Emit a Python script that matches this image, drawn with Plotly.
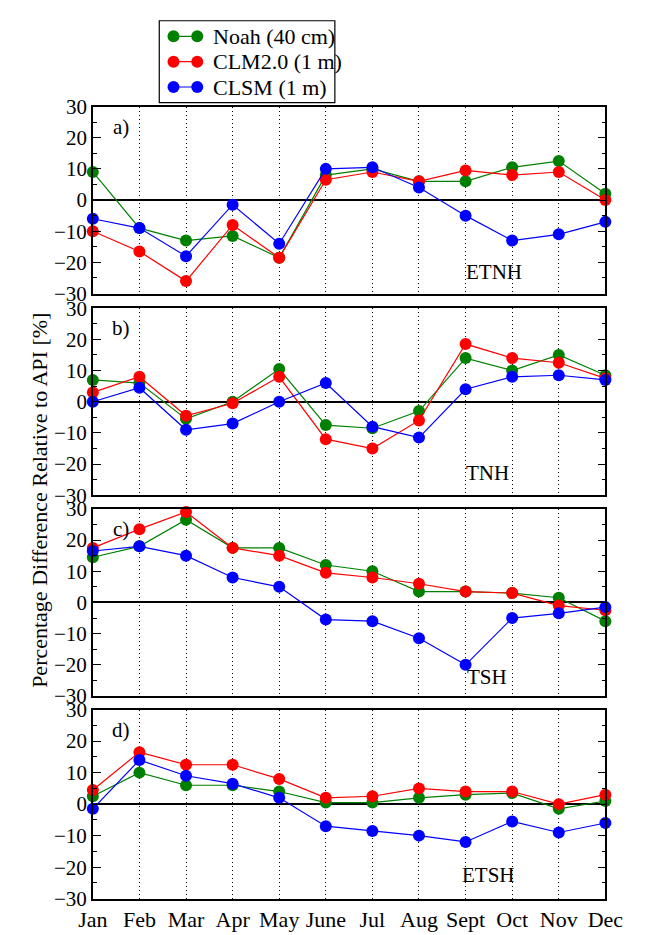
import plotly.graph_objects as go

months = ["Jan", "Feb", "Mar", "Apr", "May", "June", "Jul", "Aug", "Sept", "Oct", "Nov", "Dec"]
series_names = ["Noah (40 cm)", "CLM2.0 (1 m)", "CLSM (1 m)"]
colors = ["#008000", "#ff0000", "#0000ff"]

# Panel a) ETNH
etnh_noah = [9, -9, -13, -11.5, -18.5, 8, 10, 6, 6, 10.5, 12.5, 2]
etnh_clm = [-10, -16.5, -26, -8, -18.5, 6.5, 9, 6, 9.5, 8, 9, 0]
etnh_clsm = [-6, -9, -18, -1.5, -14, 10, 10.5, 4, -5, -13, -11, -7]
# Panel b) TNH
tnh_noah = [7, 6, -5.5, 0, 10.5, -7.5, -8.5, -3, 14, 10, 15, 8.5]
tnh_clm = [3, 8, -4.5, -0.5, 8, -12, -15, -6, 18.5, 14, 12.5, 7.5]
tnh_clsm = [0, 4.5, -9, -7, 0, 6, -8, -11.5, 4, 8, 8.5, 7]
# Panel c) TSH
tsh_noah = [14.5, 18, 26.5, 17.5, 17.5, 12, 10, 3.5, 3.5, 3, 1.5, -6]
tsh_clm = [17.5, 23.5, 29, 17.5, 15, 9.5, 8, 6, 3.5, 3, -1, -2.5]
tsh_clsm = [16.5, 18, 15, 8, 5, -5.5, -6, -11.5, -20, -5, -3.5, -1.5]
# Panel d) ETSH
etsh_noah = [2.5, 10, 6, 6, 4, 0.5, 0.5, 2, 3, 3.5, -1.5, 1]
etsh_clm = [4.5, 16.5, 12.5, 12.5, 8, 2, 2.5, 5, 4, 4, 0, 3]
etsh_clsm = [-1.5, 14, 9, 6.5, 2, -7, -8.5, -10, -12, -5.5, -9, -6]

panel_tags = ["a)", "b)", "c)", "d)"]
region_names = ["ETNH", "TNH", "TSH", "ETSH"]
panel_data = [
    [etnh_noah, etnh_clm, etnh_clsm],
    [tnh_noah, tnh_clm, tnh_clsm],
    [tsh_noah, tsh_clm, tsh_clsm],
    [etsh_noah, etsh_clm, etsh_clsm],
]
region_label_x = [8.62, 8.47, 8.45, 8.5]
region_label_y = [-23, -23, -24, -22.6]

W, H = 649, 935
x_dom = [82 / W, 622 / W]
y_px = [(97, 289), (304, 496), (510, 702), (716, 910)]
FONT = "Liberation Serif"

fig = go.Figure()
xs = list(range(len(months)))
layout = {}
annotations = []
for i in range(4):
    n = "" if i == 0 else str(i + 1)
    for j, vals in enumerate(panel_data[i]):
        fig.add_trace(go.Scatter(
            x=xs, y=vals, mode="lines+markers", name=series_names[j],
            line=dict(color=colors[j], width=1.2),
            marker=dict(color=colors[j], size=12),
            showlegend=False, cliponaxis=False,
            xaxis="x" + n, yaxis="y" + n,
        ))
    top, bot = y_px[i]
    layout["xaxis" + n] = dict(
        domain=x_dom, anchor="y" + n, range=[0, 11],
        tickvals=xs, ticktext=months, showticklabels=(i == 3),
        showgrid=True, griddash="1px,3px", gridcolor="black", gridwidth=1,
        showline=True, linecolor="black", linewidth=1.5, mirror=True,
        ticks="", zeroline=False,
        tickfont=dict(family=FONT, size=22, color="black"),
    )
    layout["yaxis" + n] = dict(
        domain=[1 - bot / H, 1 - top / H], anchor="x" + n, range=[-30, 30],
        tickvals=[-30, -20, -10, 0, 10, 20, 30],
        showgrid=False, zeroline=True, zerolinecolor="black", zerolinewidth=1.5,
        showline=True, linecolor="black", linewidth=1.5, mirror="allticks",
        ticks="inside", ticklen=8, tickwidth=1.2, tickcolor="black",
        minor=dict(ticks="inside", ticklen=4, tickcolor="black", dtick=5, tick0=0, tickwidth=1.2),
        tickfont=dict(family=FONT, size=21, color="black"),
    )
    annotations.append(dict(x=0.61, y=23.5, xref="x" + n, yref="y" + n, text=panel_tags[i],
                            showarrow=False, font=dict(family=FONT, size=21, color="black")))
    annotations.append(dict(x=region_label_x[i], y=region_label_y[i], xref="x" + n, yref="y" + n,
                            text=region_names[i], showarrow=False,
                            font=dict(family=FONT, size=21, color="black")))

# Custom legend (line with a marker at each end), drawn on its own hidden axes
leg_rows = [0, 1, 2]
for j in range(3):
    fig.add_trace(go.Scatter(
        x=[0, 1], y=[leg_rows[j], leg_rows[j]], mode="lines+markers",
        line=dict(color=colors[j], width=1.2), marker=dict(color=colors[j], size=12),
        showlegend=False, cliponaxis=False, hoverinfo="skip",
        xaxis="x5", yaxis="y5",
    ))
    annotations.append(dict(x=207 / W, y=leg_rows[j], xref="paper", yref="y5",
                            text=series_names[j], xanchor="left", showarrow=False,
                            font=dict(family=FONT, size=22, color="black")))
layout["xaxis5"] = dict(domain=[167 / W, 192 / W], range=[0, 1], visible=False, anchor="y5")
layout["yaxis5"] = dict(domain=[1 - 90 / H, 1 - 12 / H], range=[2.5, -0.5], visible=False, anchor="x5")

shapes = [dict(type="rect", xref="paper", yref="paper",
               x0=152 / W, x1=337 / W, y0=1 - 93 / H, y1=1 - 9 / H,
               line=dict(color="black", width=1.2), fillcolor="white", layer="below")]

annotations.append(dict(x=25 / W, y=1 - 501 / H, xref="paper", yref="paper",
                        xanchor="center", yanchor="middle",
                        text="Percentage Difference Relative to API [%]", textangle=-90,
                        showarrow=False, font=dict(family=FONT, size=22, color="black")))

fig.update_layout(
    width=W, height=H, margin=dict(l=0, r=0, t=0, b=0),
    paper_bgcolor="white", plot_bgcolor="white",
    annotations=annotations, shapes=shapes, showlegend=False,
    **layout,
)
fig.write_html("out.html")
